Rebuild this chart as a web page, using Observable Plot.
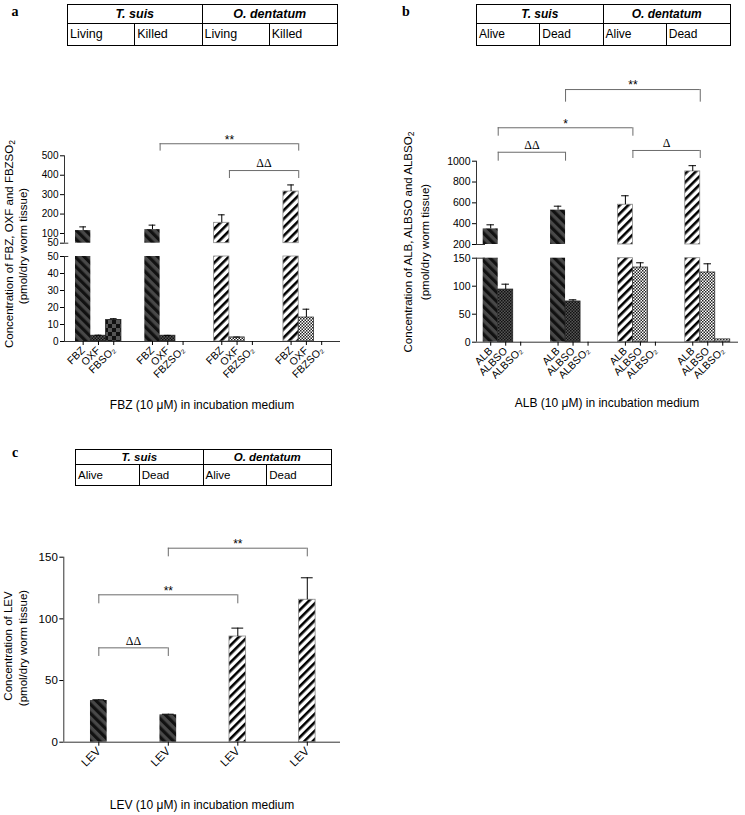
<!DOCTYPE html>
<html><head><meta charset="utf-8">
<script src="https://cdn.jsdelivr.net/npm/d3@7"></script>
<script src="https://cdn.jsdelivr.net/npm/@observablehq/plot@0.6"></script>
<style>
body{margin:0;background:#fff;}
#fig{position:relative;width:745px;height:815px;overflow:hidden;background:#fff;font-family:"Liberation Sans",Arial,Helvetica,sans-serif;color:#000;}
#fig svg.ov{position:absolute;left:0;top:0;}
sub{font-size:75%;vertical-align:-0.25em;line-height:0;}
</style></head><body>
<svg width="0" height="0" style="position:absolute">
<defs>
<pattern id="darkDiag" patternUnits="userSpaceOnUse" width="6.5" height="6.5" patternTransform="rotate(-45)">
<rect width="6.5" height="6.5" fill="#484848"/><rect width="3.2" height="6.5" fill="#111"/></pattern>
<pattern id="whiteDiag" patternUnits="userSpaceOnUse" width="6" height="6" patternTransform="rotate(45)">
<rect width="6" height="6" fill="#fff"/><rect width="2.6" height="6" fill="#000"/></pattern>
<pattern id="darkCheck" patternUnits="userSpaceOnUse" width="3" height="3">
<rect width="3" height="3" fill="#555"/><rect width="1.5" height="1.5" fill="#111"/><rect x="1.5" y="1.5" width="1.5" height="1.5" fill="#111"/></pattern>
<pattern id="lightCheck" patternUnits="userSpaceOnUse" width="3" height="3">
<rect width="3" height="3" fill="#fff"/><rect width="1.5" height="1.5" fill="#222"/><rect x="1.5" y="1.5" width="1.5" height="1.5" fill="#222"/></pattern>
<pattern id="bigCheck" patternUnits="userSpaceOnUse" width="8" height="8">
<rect width="8" height="8" fill="#555"/><rect width="4" height="4" fill="#111"/><rect x="4" y="4" width="4" height="4" fill="#111"/></pattern>
</defs></svg>
<div id="fig"></div>
<script>
// ================= DATA =================
const groupNames = ["T. suis living", "T. suis killed", "O. dentatum living", "O. dentatum killed"];
const speciesHeaders = ["T. suis", "O. dentatum"];
const statusA = ["Living", "Killed", "Living", "Killed"];
const statusBC = ["Alive", "Dead", "Alive", "Dead"];

// Panel a : FBZ incubation
const compoundsA = ["FBZ", "OXF", "FBZSO2"];
const tickLabelsA = [["FBZ", "OXF", "FBSO₂"], ["FBZ", "OXF", "FBZSO₂"], ["FBZ", "OXF", "FBZSO₂"], ["FBZ", "OXF", "FBZSO₂"]];
const fbzMean = [115, 120, 155, 316];
const fbzSem = [19, 23, 41, 34];
const oxfMean = [3.4, 3.4, 2.4, 14.1];
const oxfSem = [0.3, 0.2, 0.2, 4.9];
const fbzso2Mean = [12.7, 0, 0, 0];
const fbzso2Sem = [0.7, 0, 0, 0];
const yTicksLowA = [0, 10, 20, 30, 40, 50];
const yTicksUpA = [50, 100, 200, 300, 400, 500];
const bracketsA = [
  {from: 1, to: 3, level: 562, drop: 524, label: "**"},
  {from: 2, to: 3, level: 424, drop: 383, label: "ΔΔ"}
];

// Panel b : ALB incubation
const compoundsB = ["ALB", "ALBSO", "ALBSO2"];
const tickLabelsB = ["ALB", "ALBSO", "ALBSO₂"];
const albMean = [350, 530, 582, 902];
const albSem = [39, 38, 86, 55];
const albsoMean = [94, 72.7, 133.4, 124.5];
const albsoSem = [9.6, 3, 8.4, 15.5];
const albso2Mean = [0, 0, 0, 5];
const albso2Sem = [0, 0, 0, 0];
const yTicksLowB = [0, 50, 100, 150];
const yTicksUpB = [200, 400, 600, 800, 1000];
const bracketsB = [
  {from: 1, to: 3, level: 1688, drop: 1567, label: "**"},
  {from: 0, to: 2, level: 1321, drop: 1240, label: "*"},
  {from: 0, to: 1, level: 1086, drop: 1000, label: "ΔΔ"},
  {from: 2, to: 3, level: 1103, drop: 1026, label: "Δ"}
];

// Panel c : LEV incubation
const levMean = [33.8, 22.2, 85.7, 115.5];
const levSem = [0.6, 0.5, 6.8, 17.8];
const yTicksC = [0, 50, 100, 150];
const bracketsC = [
  {from: 1, to: 3, level: 157.3, drop: 150.3, label: "**"},
  {from: 0, to: 2, level: 119.5, drop: 112.2, label: "**"},
  {from: 0, to: 1, level: 76.5, drop: 69.5, label: "ΔΔ"}
];

// ================= STYLE =================
const FONT = '"Liberation Sans", Arial, Helvetica, sans-serif';
const SERIF = '"Liberation Serif", "Times New Roman", serif';
const AXIS = "#333";
const BRK = "#6b6b6b";
const patStroke = {darkDiag: "none", whiteDiag: "#8a8a8a", darkCheck: "#222", lightCheck: "#333", bigCheck: "#222"};
const patternKeys = Object.keys(patStroke);
const mainPattern = gi => gi < 2 ? "darkDiag" : "whiteDiag";
const metabPattern = gi => gi < 2 ? "darkCheck" : "lightCheck";
const patA = (ci, gi) => ci === 0 ? mainPattern(gi) : ci === 1 ? metabPattern(gi) : (gi < 2 ? "bigCheck" : "lightCheck");
const patB = (ci, gi) => ci === 0 ? mainPattern(gi) : ci === 1 ? metabPattern(gi) : "lightCheck";
const fmt = d => String(d);

const fig = document.getElementById("fig");

function addText(html, x, y, css, rotate) {
  const d = document.createElement("div");
  d.innerHTML = html;
  d.style.cssText = `position:absolute;left:${x}px;top:${y}px;white-space:nowrap;line-height:1;transform:translate(-50%,-50%)${rotate ? " rotate(-90deg)" : ""};${css}`;
  fig.appendChild(d);
}

function makeTable(left, top, width, h1, h2, statuses, fontSize) {
  const t = document.createElement("div");
  t.style.cssText = `position:absolute;left:${left}px;top:${top}px;width:${width}px;height:${h1 + h2}px;box-sizing:border-box;border:1.5px solid #000;display:grid;grid-template-columns:repeat(4,1fr);grid-template-rows:${h1 - 1.5}px 1fr;font-size:${fontSize}px;`;
  speciesHeaders.forEach((s, i) => {
    const c = document.createElement("div");
    c.textContent = s;
    c.style.cssText = `grid-column:span 2;display:flex;align-items:center;justify-content:center;font-weight:bold;font-style:italic;border-bottom:1.5px solid #000;${i === 0 ? "border-right:1.5px solid #000;" : ""}`;
    t.appendChild(c);
  });
  statuses.forEach((s, i) => {
    const c = document.createElement("div");
    c.textContent = s;
    c.style.cssText = `display:flex;align-items:center;padding-left:2px;${i < 3 ? "border-right:1.5px solid #000;" : ""}`;
    t.appendChild(c);
  });
  fig.appendChild(t);
}

function overlay(opts) {
  const {left, right, top, bottom, xDomain, yDomain, marks} = opts;
  const svg = Plot.plot({
    width: 745, height: 815,
    marginLeft: left, marginRight: 745 - right, marginTop: top, marginBottom: 815 - bottom,
    x: {domain: xDomain, label: null, axis: null},
    y: {domain: yDomain, label: null, axis: null},
    style: {background: "transparent", fontFamily: FONT, color: "#000", overflow: "visible"},
    marks
  });
  svg.classList.add("ov");
  fig.appendChild(svg);
}

function bracketMarks(br, xOf) {
  const drops = br.flatMap(d => [{x: xOf(d.from), y1: d.drop, y2: d.level}, {x: xOf(d.to), y1: d.drop, y2: d.level}]);
  const mid = d => (xOf(d.from) + xOf(d.to)) / 2;
  return [
    Plot.ruleY(br, {y: "level", x1: d => xOf(d.from), x2: d => xOf(d.to), stroke: BRK, strokeWidth: 1}),
    Plot.ruleX(drops, {x: "x", y1: "y1", y2: "y2", stroke: BRK, strokeWidth: 1}),
    Plot.text(br.filter(d => d.label.includes("*")), {x: mid, y: "level", text: "label", dy: -4, fontSize: 12, fontFamily: FONT}),
    Plot.text(br.filter(d => !d.label.includes("*")), {x: mid, y: "level", text: "label", dy: -7, fontSize: 12, fontFamily: SERIF})
  ];
}

function barMarks(rows, X1, X2, yBase, yTop) {
  const marks = [];
  for (const p of patternKeys) {
    const sub = rows.filter(d => d.pat === p);
    if (!sub.length) continue;
    marks.push(Plot.rect(sub, {x1: X1, x2: X2, y1: yBase, y2: yTop, fill: `url(#${p})`, stroke: patStroke[p], strokeWidth: 0.8}));
  }
  return marks;
}

function errMarks(rows, XC, cap) {
  return [
    Plot.ruleX(rows, {x: XC, y1: "value", y2: d => d.value + d.sem, stroke: "#000", strokeWidth: 1}),
    Plot.ruleY(rows, {y: d => d.value + d.sem, x1: d => XC(d) - cap, x2: d => XC(d) + cap, stroke: "#000", strokeWidth: 1})
  ];
}

function brokenPanel(o) {
  const {means, sems, pattern, GS, xDomain, low, up, lowTicks, upTicks, tickLabels, brackets, left, right, fontY, fontX, cap, ext} = o;
  const rows = [];
  groupNames.forEach((g, gi) => means.forEach((m, ci) => rows.push({group: g, gi, ci, value: m[gi], sem: sems[ci][gi], pat: pattern(ci, gi), label: tickLabels[gi][ci]})));
  const X1 = d => d.gi * GS + d.ci, X2 = d => X1(d) + 1, XC = d => X1(d) + 0.5;
  const bars = rows.filter(d => d.value > 0);
  const loTop = low.domain[1], upBot = up.domain[0];
  const x0 = xDomain[0];
  const labelMap = new Map(rows.map(d => [XC(d), d.label]));

  // lower segment of the broken y axis
  const lowMarks = [
    ...barMarks(bars, X1, X2, 0, d => Math.min(d.value, loTop)),
    ...errMarks(bars.filter(d => d.sem > 0 && d.value <= loTop), XC, cap),
    Plot.ruleY([0], {stroke: AXIS}),
    Plot.ruleX([0], {x: x0, y1: 0, y2: loTop, stroke: AXIS}),
    Plot.ruleY([loTop], {x1: x0, x2: x0 + ext, stroke: AXIS}),
    Plot.axisY(lowTicks, {anchor: "left", tickSize: 4, tickPadding: 2, fontSize: fontY, tickFormat: fmt, label: null}),
    Plot.axisX(rows.map(XC), {anchor: "bottom", tickFormat: v => labelMap.get(v), tickRotate: -45, tickSize: 4, tickPadding: 3, fontSize: fontX, label: null})
  ];
  overlay({left, right, top: low.top, bottom: low.bottom, xDomain, yDomain: low.domain, marks: lowMarks});

  // upper segment of the broken y axis
  const upRows = bars.filter(d => d.value > upBot);
  const upMarks = [
    ...barMarks(upRows, X1, X2, upBot, "value"),
    ...errMarks(upRows.filter(d => d.sem > 0), XC, cap),
    Plot.ruleX([0], {x: x0, y1: upBot, y2: up.domain[1], stroke: AXIS}),
    Plot.ruleY([upBot], {x1: x0, x2: x0 + ext, stroke: AXIS}),
    Plot.axisY(upTicks, {anchor: "left", tickSize: 4, tickPadding: 2, fontSize: fontY, tickFormat: fmt, label: null}),
    ...bracketMarks(brackets, g => g * GS + 1)
  ];
  overlay({left, right, top: up.top, bottom: up.bottom, xDomain, yDomain: up.domain, marks: upMarks});
}

// ---------- Panel a ----------
brokenPanel({
  means: [fbzMean, oxfMean, fbzso2Mean], sems: [fbzSem, oxfSem, fbzso2Sem], pattern: patA,
  GS: 4.53, xDomain: [-0.72, 17.32],
  low: {domain: [0, 50], top: 256, bottom: 341},
  up: {domain: [50, 500], top: 155.3, bottom: 242.7},
  lowTicks: yTicksLowA, upTicks: yTicksUpA, tickLabels: tickLabelsA, brackets: bracketsA,
  left: 64, right: 340, fontY: 10, fontX: 10.5, cap: 0.22, ext: 0.28
});

// ---------- Panel b ----------
brokenPanel({
  means: [albMean, albsoMean, albso2Mean], sems: [albSem, albsoSem, albso2Sem], pattern: patB,
  GS: 4.49, xDomain: [-0.447, 17.02],
  low: {domain: [0, 150], top: 257.7, bottom: 341.7},
  up: {domain: [200, 1000], top: 160.7, bottom: 244},
  lowTicks: yTicksLowB, upTicks: yTicksUpB, tickLabels: groupNames.map(() => tickLabelsB), brackets: bracketsB,
  left: 476, right: 738, fontY: 10.5, fontX: 10.5, cap: 0.25, ext: 0.6
});

// ---------- Panel c ----------
(function () {
  const rows = groupNames.map((g, gi) => ({group: g, gi, value: levMean[gi], sem: levSem[gi], pat: mainPattern(gi)}));
  const hw = 0.12, cap = 0.085;
  const XC = d => d.gi;
  const marks = [
    ...barMarks(rows, d => d.gi - hw, d => d.gi + hw, 0, "value"),
    ...errMarks(rows, XC, cap),
    Plot.ruleY([0], {stroke: AXIS}),
    Plot.ruleX([0], {x: -0.504, y1: 0, y2: 150, stroke: AXIS}),
    Plot.axisY(yTicksC, {anchor: "left", tickSize: 4, tickPadding: 2, fontSize: 11.5, tickFormat: fmt, label: null}),
    Plot.axisX(rows.map(XC), {anchor: "bottom", tickFormat: () => "LEV", tickRotate: -45, tickSize: 4, tickPadding: 3, fontSize: 11.5, label: null}),
    ...bracketMarks(bracketsC, g => g)
  ];
  overlay({left: 63.3, right: 340, top: 556.7, bottom: 741.7, xDomain: [-0.504, 3.478], yDomain: [0, 150], marks});
})();

// ---------- Tables, letters, titles ----------
makeTable(67, 4, 271, 20, 22, statusA, 12.5);
makeTable(476, 4, 255, 20, 22, statusBC, 12);
makeTable(75, 449, 257, 16, 21, statusBC, 11.5);

const letterCss = `font-family:${SERIF};font-weight:bold;font-size:14px;`;
addText("a", 15, 12, letterCss);
addText("b", 406, 12, letterCss);
addText("c", 15, 453, letterCss);

const tCss = "font-size:11.5px;text-align:center;";
addText("Concentration of FBZ, OXF and FBZSO<sub>2</sub>", 10, 244, tCss, true);
addText("(pmol/dry worm tissue)", 24, 246, tCss, true);
addText("Concentration of ALB, ALBSO and ALBSO<sub>2</sub>", 409, 242, tCss, true);
addText("(pmol/dry worm tissue)", 426, 242, tCss, true);
addText("Concentration of LEV", 9, 646, tCss, true);
addText("(pmol/dry worm tissue)", 24, 648, tCss, true);

const xCss = "font-size:12px;";
addText("FBZ (10 μM) in incubation medium", 202, 405, xCss);
addText("ALB (10 μM) in incubation medium", 607, 403, xCss);
addText("LEV (10 μM) in incubation medium", 202, 805, xCss);
</script>
</body></html>
